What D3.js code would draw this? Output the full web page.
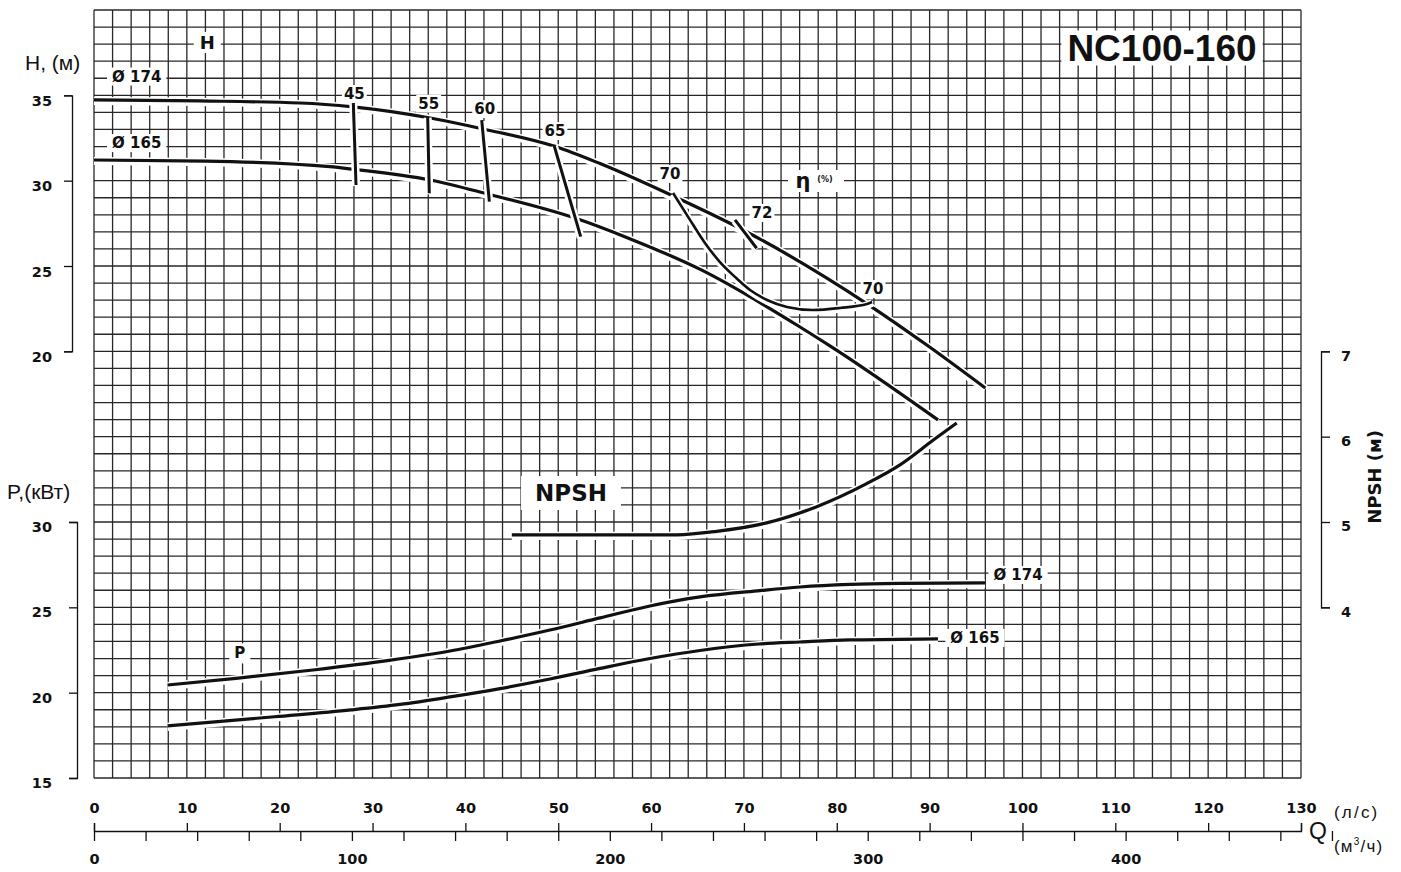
<!DOCTYPE html>
<html>
<head>
<meta charset="utf-8">
<script src="https://cdn.jsdelivr.net/npm/d3@7"></script>
<style>
  html, body { margin: 0; padding: 0; background: #fff; }
  svg { display: block; font-family: "Liberation Sans", Arial, sans-serif; }
</style>
</head>
<body>
<svg id="chart" width="1401" height="872"></svg>
<script>
// ---------------- DATA ----------------
// Flow Q in l/s
const qTicksLs = [0, 10, 20, 30, 40, 50, 60, 70, 80, 90, 100, 110, 120, 130];
const qTicksM3h = [0, 100, 200, 300, 400];
const hTicks = [20, 25, 30, 35];
const pTicks = [15, 20, 25, 30];
const npshTicks = [4, 5, 6, 7];

// Head curves H (m)
const qH174 = [0, 11.4, 22.2, 27.9, 36.2, 41.9, 49.7, 54.5, 62.6, 69.9, 83.3, 90.0, 96.0];
const h174  = [34.73, 34.67, 34.55, 34.32, 33.67, 33.03, 32.0, 31.0, 29.04, 27.11, 22.77, 20.25, 17.85];
const qH165 = [0, 12, 25.4, 27.9, 36.2, 42.4, 51.8, 57.7, 65.3, 76.0, 79.6, 90.9];
const h165  = [31.21, 31.15, 30.82, 30.67, 30.04, 29.22, 27.81, 26.6, 24.8, 21.44, 20.2, 15.98];

// Iso-efficiency lines (%)
const effNames = ["45", "55", "60", "65", "70", "72"];
const qEff45 = [27.93, 28.22], hEff45 = [34.55, 29.75];
const qEff55 = [35.94, 36.11], hEff55 = [33.75, 29.26];
const qEff60 = [41.76, 42.58], hEff60 = [33.55, 28.77];
const qEff65 = [49.54, 52.42], hEff65 = [32.09, 26.72];
const qEff72 = [69.04, 71.37], hEff72 = [27.70, 26.04];
const qEff70 = [62.36, 64.19, 65.80, 67.42, 69.04, 70.66, 72.49, 74.64, 77.44, 80.35, 83.26, 83.80];
const hEff70 = [29.28, 27.70, 26.35, 25.23, 24.36, 23.59, 23.01, 22.60, 22.42, 22.54, 22.77, 22.89];

// NPSH (m)
const qNpsh = [45.0, 54.5, 62.76, 67.07, 72.45, 77.84, 83.22, 86.81, 90.40, 92.92];
const npsh  = [4.85, 4.85, 4.85, 4.89, 4.99, 5.18, 5.45, 5.67, 5.96, 6.16];

// Power P (kW)
const qP174 = [7.93, 15.29, 23.59, 31.77, 38.34, 43.73, 49.11, 54.50, 59.88, 65.27, 71.73, 76.04, 81.42, 86.81, 95.97];
const p174  = [20.45, 20.84, 21.33, 21.89, 22.44, 23.03, 23.67, 24.38, 25.08, 25.61, 25.98, 26.19, 26.34, 26.40, 26.43];
const qP165 = [7.93, 19.45, 27.68, 32.96, 38.34, 43.73, 49.11, 54.50, 59.88, 65.27, 71.62, 76.04, 81.42, 86.81, 90.90];
const p165  = [18.05, 18.59, 18.99, 19.31, 19.75, 20.24, 20.80, 21.42, 22.00, 22.47, 22.85, 22.97, 23.09, 23.12, 23.15];

const diamLabels = ["Ø 174", "Ø 165"];
const title = "NC100-160";

// ---------------- SCALES ----------------
const svg = d3.select("#chart");
svg.append("rect").attr("width", 1401).attr("height", 872).attr("fill", "#fff");

const BOLD = "DejaVu Sans, Verdana, sans-serif";
const L = 94, R = 1301, T = 10, B = 778;
const x = d3.scaleLinear().domain([0, 130]).range([L, R]);
const xM = d3.scaleLinear().domain([0, 130 * 3.6]).range([L, R]);
const yP = d3.scaleLinear().domain([15, 60]).range([B, T]);
const yH = d3.scaleLinear().domain([-5, 40]).range([B, T]);
const yN = d3.scaleLinear().domain([2, 11]).range([B, T]);

// ---------------- GRID ----------------
const gridColor = "#2a2627";
const grid = svg.append("g");
grid.selectAll("line.v").data(d3.range(0, 131, 2)).join("line")
  .attr("x1", d => x(d)).attr("x2", d => x(d)).attr("y1", T).attr("y2", B)
  .attr("stroke", gridColor).attr("stroke-width", 1.3);
grid.selectAll("line.h").data(d3.range(15, 61, 1)).join("line")
  .attr("y1", d => yP(d)).attr("y2", d => yP(d)).attr("x1", L).attr("x2", R)
  .attr("stroke", gridColor).attr("stroke-width", 1.3);

// ---------------- CURVES ----------------
const curves = svg.append("g");
function drawCurve(qs, vs, yScale, width, curveType) {
  const pts = qs.map((q, i) => [x(q), yScale(vs[i])]);
  const line = d3.line().curve(curveType || d3.curveMonotoneX);
  curves.append("path").attr("d", line(pts)).attr("fill", "none")
    .attr("stroke", "#fff").attr("stroke-width", width + 5).attr("stroke-linecap", "butt")
    .attr("transform", "translate(0,1)");
  curves.append("path").attr("d", line(pts)).attr("fill", "none")
    .attr("stroke", "#111").attr("stroke-width", width).attr("stroke-linecap", "butt");
  return pts;
}
drawCurve(qH174, h174, yH, 3.2);
drawCurve(qH165, h165, yH, 3.2);
drawCurve(qNpsh, npsh, yN, 3.2);
drawCurve(qP174, p174, yP, 3.2);
drawCurve(qP165, p165, yP, 3.2);

const e45 = drawCurve(qEff45, hEff45, yH, 3, d3.curveLinear);
const e55 = drawCurve(qEff55, hEff55, yH, 3, d3.curveLinear);
const e60 = drawCurve(qEff60, hEff60, yH, 3, d3.curveLinear);
const e65 = drawCurve(qEff65, hEff65, yH, 3, d3.curveLinear);
const e72 = drawCurve(qEff72, hEff72, yH, 3, d3.curveLinear);
const e70 = drawCurve(qEff70, hEff70, yH, 2.6, d3.curveMonotoneX);

// ---------------- LABELS ----------------
const labels = svg.append("g");
function bgText(px, py, txt, size, weight, padX, padY, family) {
  const g = labels.append("g");
  const t = g.append("text").attr("x", px).attr("y", py)
    .attr("text-anchor", "middle").attr("dominant-baseline", "central")
    .attr("font-family", family || BOLD)
    .attr("font-size", size).attr("font-weight", weight || "bold").attr("fill", "#111").text(txt);
  const b = t.node().getBBox();
  const px2 = padX == null ? 4 : padX, py2 = padY == null ? 1 : padY;
  g.insert("rect", "text").attr("x", b.x - px2).attr("y", b.y - py2)
    .attr("width", b.width + 2 * px2).attr("height", b.height + 2 * py2).attr("fill", "#fff");
  return t;
}

// Head & diameter labels
bgText(x(12.2), yH(38.1), "H", 18, "bold", 6, 0);
bgText(x(4.6), yH(36.1), diamLabels[0], 15, "bold", 5, 0);
bgText(x(4.6), yH(32.2), diamLabels[1], 15, "bold", 5, 0);

// Efficiency labels relative to line ends
bgText(e45[0][0] + 1, e45[0][1] - 9, effNames[0], 15, "bold", 2, 0);
bgText(e55[0][0] + 1, e55[0][1] - 13, effNames[1], 15, "bold", 2, 0);
bgText(e60[0][0] + 3, e60[0][1] - 11, effNames[2], 15, "bold", 2, 0);
bgText(e65[0][0] + 1, e65[0][1] - 14, effNames[3], 15, "bold", 2, 0);
bgText(e70[0][0] - 3, e70[0][1] - 19, effNames[4], 15, "bold", 2, 0);
bgText(e72[0][0] + 27, e72[0][1] - 7, effNames[5], 15, "bold", 2, 0);
bgText(e70[e70.length - 1][0] + 1, e70[e70.length - 1][1] - 13, effNames[4], 15, "bold", 2, 0);

// eta label
{
  const g = labels.append("g");
  g.append("rect").attr("x", 788).attr("y", 170).attr("width", 56).attr("height", 22).attr("fill", "#fff");
  g.append("text").attr("x", 803).attr("y", 188).attr("text-anchor", "middle")
    .attr("font-family", BOLD)
    .attr("font-size", 21).attr("font-weight", "bold").attr("fill", "#111").text("η");
  g.append("text").attr("x", 825).attr("y", 182).attr("text-anchor", "middle")
    .attr("font-family", BOLD)
    .attr("font-size", 8).attr("font-weight", "bold").attr("fill", "#111").text("(%)");
}

// NPSH label
bgText(571, 493, "NPSH", 23, "bold", 14, 4);

// P labels
bgText(x(15.7), yP(22.3), "P", 15, "bold", 5, 1);
const p174End = [x(qP174[qP174.length - 1]), yP(p174[p174.length - 1])];
const p165End = [x(qP165[qP165.length - 1]), yP(p165[p165.length - 1])];
bgText(p174End[0] + 33, p174End[1] - 8, diamLabels[0], 15, "bold", 5, 0);
bgText(p165End[0] + 37, p165End[1] - 1, diamLabels[1], 15, "bold", 5, 0);

// Title
bgText(1162, 48, title, 37, "bold", 6, -3, "Liberation Sans, Arial, sans-serif");

// ---------------- AXES ----------------
const axisColor = "#111";
function styleAxis(g, size) {
  g.attr("font-size", null).attr("font-family", null);
  g.selectAll("path, line").attr("stroke", axisColor).attr("stroke-width", 1.3);
  g.selectAll("text").attr("font-size", size || 14.5).attr("font-weight", "bold")
    .attr("fill", "#111").attr("font-family", BOLD);
}

// H axis
const hAxisScale = d3.scaleLinear().domain([20, 35]).range([yH(20), yH(35)]);
const hAx = svg.append("g").attr("transform", "translate(72,0)")
  .call(d3.axisLeft(hAxisScale).tickValues(hTicks).tickSize(8).tickPadding(12).tickFormat(d3.format("d")));
styleAxis(hAx);
hAx.selectAll("text").attr("dy", "0.7em");

// P axis
const pAxisScale = d3.scaleLinear().domain([15, 30]).range([yP(15), yP(30)]);
const pAx = svg.append("g").attr("transform", "translate(77,0)")
  .call(d3.axisLeft(pAxisScale).tickValues(pTicks).tickSize(8).tickPadding(17).tickFormat(d3.format("d")));
styleAxis(pAx);
pAx.selectAll("text").attr("dy", "0.65em");

// NPSH axis (right)
const nAxisScale = d3.scaleLinear().domain([4, 7]).range([yN(4), yN(7)]);
const nAx = svg.append("g").attr("transform", "translate(1321,0)")
  .call(d3.axisRight(nAxisScale).tickValues(npshTicks).tickSize(9).tickPadding(11).tickFormat(d3.format("d")));
styleAxis(nAx);
nAx.selectAll("text").attr("dy", "0.6em");

// Q axis (l/s)
const qAx = svg.append("g").attr("transform", "translate(0,831)")
  .call(d3.axisTop(x).tickValues(qTicksLs).tickSize(8).tickSizeOuter(8).tickPadding(10).tickFormat(d3.format("d")));
styleAxis(qAx);

// Q axis (m3/h)
const mAx = svg.append("g").attr("transform", "translate(0,831)")
  .call(d3.axisBottom(xM).tickValues(d3.range(0, 481, 20)).tickSize(10).tickPadding(13)
    .tickFormat(d => qTicksM3h.includes(d) ? d : ""));
mAx.select(".domain").remove();
styleAxis(mAx);

// Axis titles
svg.append("text").attr("x", 25).attr("y", 70).attr("font-size", 21).attr("fill", "#111").text("H, (м)");
svg.append("text").attr("x", 7).attr("y", 499).attr("font-size", 21).attr("fill", "#111").text("P,(кВт)");
svg.append("text").attr("x", 1309).attr("y", 839).attr("font-size", 23).attr("fill", "#111").text("Q");
svg.append("text").attr("x", 1334).attr("y", 818).attr("font-size", 17).attr("letter-spacing", 2.2)
  .attr("fill", "#111").text("(л/с)");
{
  const t = svg.append("text").attr("x", 1334).attr("y", 852).attr("font-size", 17)
    .attr("letter-spacing", 1.2).attr("fill", "#111");
  t.append("tspan").text("(м");
  t.append("tspan").attr("font-size", 10).attr("dy", -7).text("3");
  t.append("tspan").attr("dy", 7).text("/ч)");
}
svg.append("text").attr("transform", "translate(1381,477) rotate(-90)")
  .attr("text-anchor", "middle").attr("font-size", 18).attr("font-weight", "bold")
  .attr("font-family", BOLD).attr("fill", "#111").text("NPSH (м)");
</script>
</body>
</html>
